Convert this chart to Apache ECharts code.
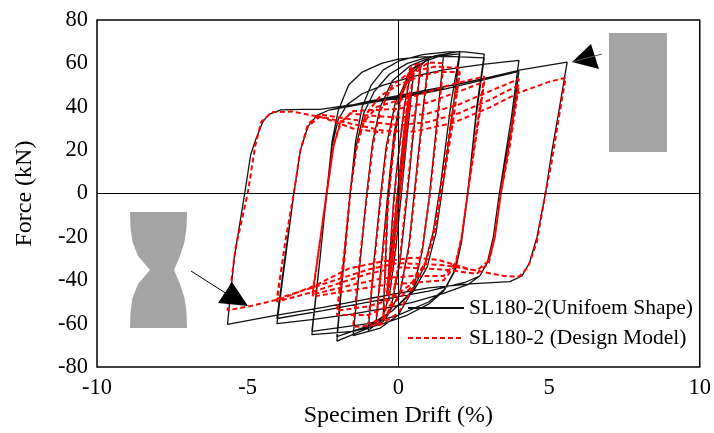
<!DOCTYPE html>
<html>
<head>
<meta charset="utf-8">
<script src="https://cdn.jsdelivr.net/npm/echarts@6/dist/echarts.min.js"></script>
<style>
  html, body { margin: 0; padding: 0; background: #fff; }
  #chart { width: 714px; height: 433px; }
</style>
</head>
<body>
<div id="chart"></div>
<script>
// 轴刻度
var xTicks = [-10, -5, 0, 5, 10];
var yTicks = [-80, -60, -40, -20, 0, 20, 40, 60, 80];

// 试验曲线 (drift %, force kN)，按加载幅值分段
var test_0375 = [[0,0],[0.15,22],[0.3,40],[0.375,46],[0.2,22],[0,-4],[-0.2,-30],[-0.375,-46],[-0.2,-22],[0,4],[0.2,30],[0.375,46],[0.2,21],[0,-5],[-0.2,-31],[-0.375,-47]];
var test_050 = [[-0.15,-2],[0,18],[0.2,40],[0.35,51],[0.5,55],[0.3,28],[0.1,0],[-0.1,-27],[-0.3,-47],[-0.5,-56]];
var test_075 = [[-0.35,-4],[-0.15,23],[0.1,47],[0.4,57],[0.75,60],[0.5,28],[0.3,0],[0.05,-32],[-0.25,-53],[-0.5,-59],[-0.75,-61]];
var test_100 = [[-0.55,-30],[-0.35,0],[-0.15,27],[0.1,46],[0.45,57],[1.0,62],[0.75,30],[0.55,3],[0.35,-24],[0.05,-46],[-0.4,-57],[-1.0,-63]];
var test_150 = [[-0.8,-30],[-0.6,-2],[-0.4,22],[-0.1,42],[0.4,55],[0.9,61],[1.5,64],[1.3,36],[1.04,0],[0.8,-26],[0.5,-44],[0,-56],[-0.6,-62],[-1.5,-65.5]];
var test_200 = [[-1.3,-36],[-1.05,0],[-0.85,24],[-0.6,40],[-0.2,52],[0.4,59],[1.2,63.5],[2.04,65.5],[1.75,42],[1.4,4],[1.15,-18],[0.85,-34],[0.45,-45],[-0.2,-54],[-1.0,-62],[-2.04,-68],
  [-1.85,-38],[-1.6,0],[-1.4,22],[-1.15,37],[-0.8,47],[-0.3,55],[0.3,60],[1.0,63],[2.04,64.4],[1.8,38],[1.5,6],[1.25,-18],[0.95,-34],[0.5,-45],[-0.2,-54],[-1.0,-61],[-2.04,-66]];
var test_285 = [[-1.85,-36],[-1.6,0],[-1.42,24],[-1.2,40],[-0.9,50],[-0.5,57],[0,61],[0.8,64],[1.65,65.3],[2.2,65.3],[2.85,64.3],[2.6,40],[2.3,0],[2.1,-22],[1.85,-36],[1.5,-45],[1.0,-51],[0.3,-56],[-0.5,-60],[-1.5,-63.5],[-2.87,-65],
  [-2.6,-30],[-2.38,0],[-2.2,24],[-2.0,38],[-1.65,50],[-1.2,56],[-0.56,60],[0,62],[0.8,63],[1.65,63.2],[2.85,62.5],[2.6,38],[2.3,0],[2.1,-22],[1.9,-35],[1.55,-44],[1.0,-50],[0,-56],[-1.0,-60],[-2.87,-63.5]];
var test_400 = [[-2.6,-30],[-2.38,0],[-2.2,22],[-2.0,34],[-1.7,41],[-1.2,46],[-0.5,50],[0.5,54],[1.5,57],[2.8,59.5],[4.0,61.4],[3.75,35],[3.35,0],[3.15,-20],[2.95,-32],[2.7,-38],[2.3,-42],[1.5,-46],[0.5,-50],[-0.5,-53],[-1.5,-55.5],[-2.8,-58],[-4.03,-60],
  [-3.75,-30],[-3.47,0],[-3.25,20],[-3.0,31],[-2.7,36],[-2.3,38.5],[-1.3,41],[0,44],[1.5,48],[3,53],[4.0,56.3],[3.75,30],[3.35,0],[3.15,-20],[2.95,-32],[2.7,-38],[2.2,-41],[1,-45],[0,-47.5],[-1,-50],[-2.5,-54],[-4.03,-57.6]];
var test_560 = [[-3.75,-28],[-3.47,0],[-3.25,20],[-3.0,31],[-2.7,36],[-2.3,38.5],[-1,42.5],[0.5,46.5],[2,50.5],[3,53.5],[4.06,57],[5.6,60.6],[5.35,40],[5.1,20],[4.88,0],[4.6,-20],[4.35,-32],[4.1,-38],[3.7,-40.6],[2.5,-41.5],[1,-43.5],[-1,-48.5],[-2.5,-52.5],[-4.03,-56],[-5.67,-60.3],
  [-5.45,-30],[-5.1,0],[-4.9,18],[-4.73,25],[-4.5,33],[-4.3,36.5],[-3.9,38.6],[-3.2,38.8],[-2.6,38.8],[-1.5,41],[0,44.5],[1.5,48.5]];

// 设计模型曲线
var model_0375 = [[0,0],[0.15,23],[0.3,42],[0.375,47],[0.2,24],[0,-2],[-0.2,-28],[-0.375,-46],[-0.2,-23],[0,3],[0.2,29],[0.375,47],[0.2,22],[0,-3],[-0.2,-30],[-0.375,-47]];
var model_050 = [[-0.15,-4],[0,17],[0.2,40],[0.35,52],[0.5,58],[0.3,30],[0.1,2],[-0.1,-26],[-0.3,-46],[-0.5,-58]];
var model_075 = [[-0.35,-6],[-0.15,22],[0.1,46],[0.4,58],[0.75,60.5],[0.5,30],[0.3,2],[0.05,-30],[-0.25,-52],[-0.5,-59],[-0.75,-61]];
var model_100 = [[-0.55,-32],[-0.35,-3],[-0.15,25],[0.1,45],[0.45,57],[1.0,60],[0.75,28],[0.55,1],[0.35,-25],[0.05,-46],[-0.4,-57],[-1.0,-60]];
var model_150 = [[-0.8,-32],[-0.6,-4],[-0.4,20],[-0.1,40],[0.4,54],[1.0,60.5],[1.5,60],[1.3,33],[1.05,0],[0.8,-25],[0.5,-43],[0,-55],[-0.6,-60.5],[-1.5,-61.5]];
var model_200 = [[-1.3,-33],[-1.05,-2],[-0.85,22],[-0.6,38],[-0.2,50],[0.4,56],[1.2,58.5],[2.04,58],[1.78,36],[1.45,6],[1.2,-16],[0.9,-32],[0.45,-43],[-0.2,-51],[-1,-56],[-2.04,-56],
  [-1.8,-32],[-1.6,0],[-1.38,22],[-1.1,36],[-0.6,45],[0,50],[0.7,54],[1.3,56],[2.04,56],[1.8,32],[1.45,2],[1.2,-18],[0.9,-32],[0.4,-42],[-0.3,-49],[-1,-52],[-2.04,-54]];
var model_285 = [[-1.8,-28],[-1.6,0],[-1.4,20],[-1.15,33],[-0.7,40],[0,43],[0.8,46],[1.7,50],[2.85,54],[2.6,30],[2.3,0],[2.1,-20],[1.9,-33],[1.5,-40],[0.6,-41],[-0.4,-42],[-1.5,-44.5],[-2.85,-47.5],
  [-2.6,-22],[-2.38,0],[-2.15,22],[-1.9,33],[-1.5,38],[-0.8,38.5],[0,39],[1,42],[2,47],[2.85,51.5],[2.6,28],[2.3,0],[2.1,-20],[1.9,-32],[1.5,-38],[0.5,-38],[-0.5,-39],[-1.5,-42],[-2.85,-46.5]];
var model_400 = [[-2.6,-22],[-2.38,0],[-2.15,22],[-1.95,32],[-1.6,37],[-1,36],[0,35],[1,37],[2,41],[3,47],[4,52.8],[3.7,25],[3.4,0],[3.2,-20],[3.0,-32],[2.6,-37],[1.5,-35],[0,-34],[-1,-37],[-2,-41.5],[-3,-46],[-4.03,-49.8],
  [-3.75,-22],[-3.47,0],[-3.25,20],[-3.0,32],[-2.6,36.5],[-1.5,34],[0,31.5],[1,33],[2,37],[3,43],[4,50],[3.7,22],[3.4,0],[3.2,-20],[3.0,-31],[2.6,-35.5],[1.5,-33],[0,-32],[-1,-35],[-2,-39.5],[-3,-44],[-4.03,-48.5]];
var model_560 = [[-3.75,-22],[-3.47,0],[-3.25,20],[-3.0,31],[-2.6,35.5],[-1.5,32],[-0.5,29],[0.5,28.5],[1.8,32.5],[3,39.5],[4,46.5],[5,51.5],[5.55,53.4],[5.3,33],[5.08,14],[4.88,0],[4.6,-22],[4.3,-34],[4.0,-38.3],[3.5,-38],[2.4,-35],[1.3,-30.5],[0.5,-29.5],[-0.56,-31.4],[-1.65,-34.6],[-2.75,-42.3],[-3.86,-48.4],[-4.95,-52],[-5.67,-53.8],
  [-5.4,-25],[-5.0,0],[-4.75,22],[-4.55,33],[-4.2,37.5],[-3.5,37.8],[-2.5,35],[-1.5,30],[-0.5,28]];

var testData = [].concat(test_0375, test_050, test_075, test_100, test_150, test_200, test_285, test_400, test_560);
var modelData = [].concat(model_0375, model_050, model_075, model_100, model_150, model_200, model_285, model_400, model_560);

var font = 'Liberation Serif';
var chart = echarts.init(document.getElementById('chart'));
chart.setOption({
  animation: false,
  backgroundColor: '#fff',
  grid: { left: 97, right: 11, top: 20, bottom: 64, show: true, borderColor: '#000', borderWidth: 1.5 },
  legend: {
    orient: 'vertical',
    left: 402,
    top: 292,
    itemWidth: 56,
    itemHeight: 14,
    itemGap: 8,
    itemStyle: { opacity: 0 },
    textStyle: { fontFamily: font, fontSize: 21.5, color: '#000' },
    data: ['SL180-2(Unifoem Shape)', 'SL180-2 (Design Model)']
  },
  xAxis: {
    type: 'value',
    min: xTicks[0], max: xTicks[xTicks.length - 1], interval: 5,
    name: 'Specimen Drift (%)', nameLocation: 'middle', nameGap: 36,
    nameTextStyle: { fontFamily: font, fontSize: 24, color: '#000' },
    axisLine: { show: false },
    axisTick: { show: false },
    splitLine: { show: false },
    axisLabel: { fontFamily: font, fontSize: 22.5, color: '#000', margin: 9 }
  },
  yAxis: {
    type: 'value',
    min: yTicks[0], max: yTicks[yTicks.length - 1], interval: 20,
    name: 'Force (kN)', nameLocation: 'middle', nameGap: 60,
    nameTextStyle: { fontFamily: font, fontSize: 24, color: '#000' },
    axisLine: { show: false },
    axisTick: { show: false },
    splitLine: { show: false },
    axisLabel: { fontFamily: font, fontSize: 22.5, color: '#000', margin: 9 }
  },
  series: [
    {
      name: 'SL180-2(Unifoem Shape)',
      type: 'line',
      data: testData,
      symbol: 'none',
      lineStyle: { color: '#111', width: 1.3 },
      itemStyle: { color: '#111' },
      markLine: {
        silent: true,
        symbol: 'none',
        label: { show: false },
        lineStyle: { color: '#000', width: 1, type: 'solid' },
        data: [{ xAxis: 0 }, { yAxis: 0 }]
      }
    },
    {
      name: 'SL180-2 (Design Model)',
      type: 'line',
      data: modelData,
      symbol: 'none',
      lineStyle: { color: '#ff0000', width: 2, type: [5, 3] },
      itemStyle: { color: '#ff0000' }
    }
  ],
  graphic: [
    // 右上角矩形试件
    { type: 'rect', shape: { x: 609, y: 33, width: 58, height: 119 }, style: { fill: '#a4a4a4' }, z: 10 },
    // 左侧沙漏形试件
    { type: 'polygon', shape: { points: [[130,212],[187,212],[186.5,228],[184.5,242],[180,256],[174,270],[180,284],[184.5,298],[186.5,312],[187,328],[130,328],[130.5,312],[132.5,298],[138,284],[150,270],[138,256],[132.5,242],[130.5,228]] }, style: { fill: '#a4a4a4' }, z: 10 },
    // 箭头
    { type: 'line', shape: { x1: 572, y1: 62, x2: 602, y2: 54 }, style: { stroke: '#555', lineWidth: 1 }, z: 11 },
    { type: 'polygon', shape: { points: [[572, 62], [591, 44], [599, 69]] }, style: { fill: '#000' }, z: 10 },
    { type: 'line', shape: { x1: 191, y1: 271, x2: 227, y2: 294 }, style: { stroke: '#000', lineWidth: 1 }, z: 11 },
    { type: 'polygon', shape: { points: [[218, 303], [232, 282], [248, 306]] }, style: { fill: '#000' }, z: 10 }
  ]
});
</script>
</body>
</html>
